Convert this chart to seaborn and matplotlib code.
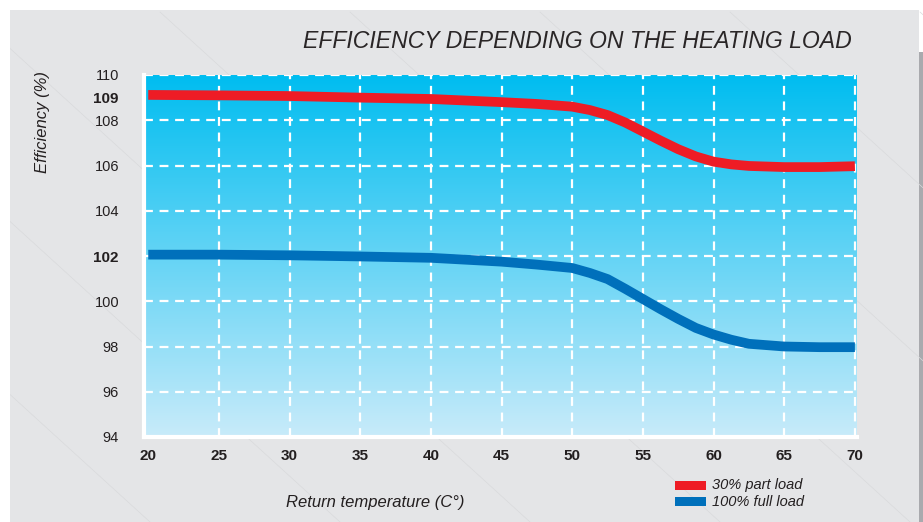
import numpy as np
import pandas as pd
import matplotlib
matplotlib.use("Agg")
import matplotlib.pyplot as plt
from matplotlib.patches import Rectangle
from matplotlib.lines import Line2D
import seaborn as sns

# ---- data ----
temperature = [20, 25, 30, 35, 40, 45, 47.5, 50, 51.25, 52.5, 53.75, 55, 56.25,
               57.5, 58.75, 60, 61.25, 62.5, 65, 67.5, 70]
part_load_30 = [109.12, 109.10, 109.07, 109.00, 108.94, 108.80, 108.72, 108.60, 108.45,
                108.23, 107.90, 107.50, 107.10, 106.72, 106.40, 106.17, 106.05, 105.98,
                105.93, 105.93, 105.97]
full_load_100 = [102.06, 102.06, 102.03, 101.98, 101.92, 101.75, 101.62, 101.47, 101.25,
                 100.98, 100.55, 100.10, 99.65, 99.22, 98.82, 98.53, 98.30, 98.12,
                 98.00, 97.97, 97.97]
series_names = ["30% part load", "100% full load"]
x_ticks = [20, 25, 30, 35, 40, 45, 50, 55, 60, 65, 70]
y_ticks = [94, 96, 98, 100, 102, 104, 106, 108, 109, 110]
bold_y = [102, 109]

df = pd.DataFrame({
    "temp": temperature * 2,
    "eff": part_load_30 + full_load_100,
    "series": [series_names[0]] * len(temperature) + [series_names[1]] * len(temperature),
})

sns.set_theme(style="white")
plt.rcParams["font.family"] = ["Liberation Sans", "DejaVu Sans"]

RED = "#ee1c25"
BLUE = "#0070bb"
TXT = "#231f20"
BG = "#e4e5e7"

fig = plt.figure(figsize=(9.23, 5.22), dpi=100)
fig.patch.set_facecolor("white")

# background panel
fig.patches.append(Rectangle((10 / 923, 0), 909 / 923, 512 / 522, transform=fig.transFigure,
                             facecolor=BG, edgecolor="none", zorder=-10))
fig.patches.append(Rectangle((919 / 923, 0), 4 / 923, 470 / 522, transform=fig.transFigure,
                             facecolor="#a9aaae", edgecolor="none", zorder=-10))
# faint decorative diagonals
for x0 in np.arange(-600, 1000, 190):
    fig.add_artist(Line2D([(x0) / 923, (x0 + 560) / 923], [1 - 12 / 522, 1 - 522 / 522],
                          transform=fig.transFigure, color="#d9dadc", lw=0.5, zorder=-9))
fig.patches.append(Rectangle((0, 1 - 10 / 522), 1, 10 / 522, transform=fig.transFigure,
                             facecolor="white", edgecolor="none", zorder=-8))
fig.patches.append(Rectangle((0, 0), 10 / 923, 1, transform=fig.transFigure,
                             facecolor="white", edgecolor="none", zorder=-8))

ax = fig.add_axes([144 / 923, 1 - 437 / 522, (857 - 144) / 923, (437 - 75) / 522])
ax.set_xlim(19.7, 70.15)
ax.set_ylim(94, 110)
ax.patch.set_alpha(0)

# gradient background
grad = np.linspace(0, 1, 256).reshape(-1, 1)
cmap = matplotlib.colors.LinearSegmentedColormap.from_list("g", ["#00bdf0", "#c8ebfa"])
ax.imshow(grad, extent=[0, 1, 0, 1], transform=ax.transAxes, cmap=cmap, aspect="auto",
          zorder=0, origin="upper")

# grid
for xv in x_ticks[1:]:
    ax.axvline(xv, color="white", lw=1.6, ls=(0, (4, 3)), zorder=1)
for yv in [96, 98, 100, 102, 104, 106, 108, 110]:
    ax.axhline(yv, color="white", lw=1.6, ls=(0, (4, 3)), zorder=1)

sns.lineplot(data=df, x="temp", y="eff", hue="series", palette=[RED, BLUE], lw=7,
             legend=False, ax=ax, zorder=3)
for ln in ax.get_lines():
    ln.set_solid_capstyle("butt")
    ln.set_solid_joinstyle("round")

for s in ["top", "right"]:
    ax.spines[s].set_visible(False)
for s in ["left", "bottom"]:
    ax.spines[s].set_color("white")
    ax.spines[s].set_linewidth(3)
    ax.spines[s].set_zorder(4)

ax.set_xticks(x_ticks)
ax.set_xticklabels([str(t) for t in x_ticks], fontsize=11, fontweight="bold", color=TXT)
ax.set_yticks(y_ticks)
ax.set_yticklabels([str(t) for t in y_ticks], fontsize=10.5, color=TXT)
for lab, t in zip(ax.get_yticklabels(), y_ticks):
    if t in bold_y:
        lab.set_fontweight("bold")
        lab.set_fontsize(11)
ax.tick_params(axis="x", length=0, pad=9)
ax.tick_params(axis="y", length=0, pad=18)
ax.set_xlabel("")
ax.set_ylabel("")

fig.text(42 / 923, 1 - 122 / 522, "Efficiency (%)", rotation=90, style="italic",
         fontsize=12, color=TXT, ha="center", va="center")
fig.text(375 / 923, 1 - 502 / 522, "Return temperature (C°)", style="italic",
         fontsize=12, color=TXT, ha="center", va="center")
fig.text(852 / 923, 1 - 41 / 522, "EFFICIENCY DEPENDING ON THE HEATING LOAD", style="italic",
         fontsize=16.6, color="#2a2627", ha="right", va="center")

# legend
for i, (name, col) in enumerate(zip(series_names, [RED, BLUE])):
    yc = 485.5 + i * 16
    fig.patches.append(Rectangle((675 / 923, 1 - (yc + 4.5) / 522), 31 / 923, 9 / 522,
                                 transform=fig.transFigure, facecolor=col, edgecolor="none"))
    fig.text(712 / 923, 1 - yc / 522, name, style="italic", fontsize=10.5, color=TXT,
             ha="left", va="center")

fig.savefig("out.png", dpi=100, facecolor=fig.get_facecolor())
